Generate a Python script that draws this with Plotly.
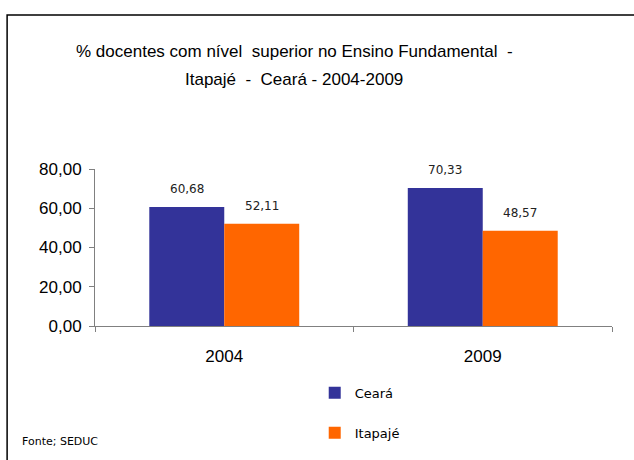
import plotly.graph_objects as go

categories = ["2004", "2009"]
ceara = [60.68, 70.33]
itapaje = [52.11, 48.57]
series_names = ["Ceará", "Itapajé"]
colors = ["#333399", "#FF6600"]
title_lines = ["% docentes com nível  superior no Ensino Fundamental  -", "Itapajé  -  Ceará - 2004-2009"]
source_text = "Fonte; SEDUC"

PLOT_W = 517
BARGAP = 0.42
bar_px = PLOT_W / len(categories) * (1 - BARGAP) / 2

fig = go.Figure()
for name, vals, col, grp, side in zip(series_names, [ceara, itapaje], colors, ["a", "b"], [-1, 1]):
    fig.add_trace(go.Bar(
        x=categories, y=vals, name=name, marker=dict(color=col, line=dict(width=0)),
        legendgroup=grp, hoverinfo="skip",
    ))
    for i, v in enumerate(vals):
        fig.add_annotation(x=i, y=v, xref="x", yref="y", text=f"{v:.2f}".replace(".", ","),
                           showarrow=False, xanchor="center", yanchor="bottom",
                           xshift=side * bar_px / 2, yshift=9,
                           font=dict(family="DejaVu Sans", size=12, color="#222222"))

fig.update_layout(
    width=634, height=460,
    margin=dict(l=95, r=22, t=169, b=132),
    paper_bgcolor="white", plot_bgcolor="white",
    separators=",.",
    barmode="group", bargap=BARGAP, bargroupgap=0,
    showlegend=True,
    legend=dict(x=0.425, y=-0.33, xanchor="left", yanchor="top",
                font=dict(family="DejaVu Sans", size=13, color="#000000"),
                traceorder="grouped", tracegroupgap=20, itemwidth=30,
                bgcolor="rgba(0,0,0,0)"),
    xaxis=dict(type="category", categoryorder="array", categoryarray=categories,
               range=[-0.5, len(categories) - 0.5],
               showline=True, linecolor="#808080", linewidth=1, ticks="outside",
               tickson="boundaries", ticklen=5, tickcolor="#808080",
               tickfont=dict(family="Liberation Sans", size=17, color="#000000"),
               ticklabelstandoff=15, showgrid=False),
    yaxis=dict(range=[0, 80], dtick=20, tickformat=".2f", showline=True,
               linecolor="#808080", linewidth=1, ticks="outside", ticklen=5,
               tickcolor="#808080", showgrid=False, zeroline=False,
               tickfont=dict(family="Liberation Sans", size=17, color="#000000"),
               ticklabelstandoff=4),
)

fig.add_annotation(text=title_lines[0], xref="paper", yref="paper", x=0.385, y=1.748,
                   showarrow=False, xanchor="center", yanchor="middle",
                   font=dict(family="Liberation Sans", size=17, color="#000000"))
fig.add_annotation(text=title_lines[1], xref="paper", yref="paper", x=0.384, y=1.572,
                   showarrow=False, xanchor="center", yanchor="middle",
                   font=dict(family="Liberation Sans", size=17, color="#000000"))
fig.add_annotation(text=source_text, xref="paper", yref="paper", x=-0.145, y=-0.735,
                   showarrow=False, xanchor="left", yanchor="middle",
                   font=dict(family="DejaVu Sans", size=11, color="#000000"))

fig.add_shape(type="rect", xref="paper", yref="paper", x0=-0.170, x1=1.06, y0=-0.9, y1=1.981,
              line=dict(color="#000000", width=1.5), fillcolor="rgba(0,0,0,0)", layer="above")

fig.write_html("out.html", config={"displayModeBar": False},
               post_script="document.body.style.margin='0';")
